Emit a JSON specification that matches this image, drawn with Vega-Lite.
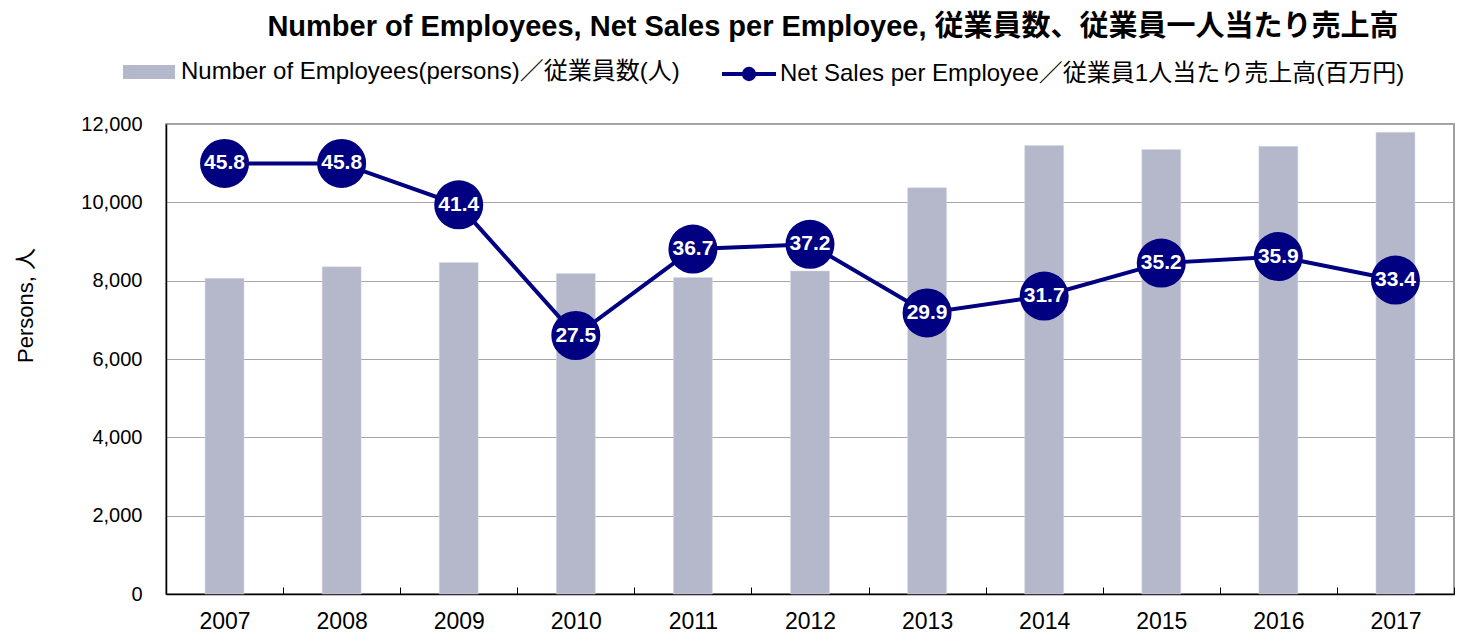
{
  "$schema": "https://vega.github.io/schema/vega-lite/v6.json",
  "width": 1288,
  "height": 470,
  "autosize": {"type": "none"},
  "padding": {"left": 166, "top": 124, "right": 3, "bottom": 39},
  "background": "white",
  "config": {
    "font": "Liberation Sans, Noto Sans CJK JP",
    "view": {"stroke": "#808080", "strokeWidth": 1.5}
  },
  "title": {
    "text": "Number of Employees, Net Sales per Employee, 従業員数、従業員一人当たり売上高",
    "font": "Liberation Sans, Noto Sans CJK JP",
    "fontSize": 29,
    "fontWeight": "bold",
    "color": "#000000",
    "anchor": "middle",
    "dx": 23,
    "offset": 3
  },
  "data": {
    "values": [
      {"year": "2007", "employees": 8060, "sales": 45.8},
      {"year": "2008", "employees": 8355, "sales": 45.8},
      {"year": "2009", "employees": 8465, "sales": 41.4},
      {"year": "2010", "employees": 8185, "sales": 27.5},
      {"year": "2011", "employees": 8080, "sales": 36.7},
      {"year": "2012", "employees": 8250, "sales": 37.2},
      {"year": "2013", "employees": 10375, "sales": 29.9},
      {"year": "2014", "employees": 11450, "sales": 31.7},
      {"year": "2015", "employees": 11350, "sales": 35.2},
      {"year": "2016", "employees": 11430, "sales": 35.9},
      {"year": "2017", "employees": 11790, "sales": 33.4}
    ]
  },
  "encoding": {
    "x": {
      "field": "year",
      "type": "ordinal",
      "scale": {"paddingInner": 0, "paddingOuter": 0},
      "axis": {
        "title": null,
        "labelAngle": 0,
        "labelFontSize": 23,
        "labelColor": "#000000",
        "labelPadding": 23,
        "tickBand": "extent",
        "tickSize": -7,
        "tickColor": "#000000",
        "domainColor": "#000000",
        "domainWidth": 1.5,
        "grid": false
      }
    }
  },
  "layer": [
    {
      "mark": {"type": "bar", "width": 39, "stroke": "#DADBE5", "strokeWidth": 0.5},
      "encoding": {
        "y": {
          "field": "employees",
          "type": "quantitative",
          "scale": {"domain": [0, 12000]},
          "axis": {
            "title": "Persons, 人",
            "titleFontSize": 22,
            "titleFontWeight": "normal",
            "titleColor": "#000000",
            "titleAngle": -90,
            "titleX": -141,
            "titleY": 181,
            "titleAlign": "center",
            "titleBaseline": "middle",
            "values": [0, 2000, 4000, 6000, 8000, 10000, 12000],
            "format": ",d",
            "labelFontSize": 20,
            "labelColor": "#000000",
            "labelPadding": 24,
            "tickSize": 0,
            "domainColor": "#000000",
            "domainWidth": 1.5,
            "grid": true,
            "gridColor": "#A6A6A6",
            "gridWidth": 1
          }
        },
        "fill": {
          "datum": "Number of Employees(persons)／従業員数(人)",
          "type": "nominal",
          "scale": {"range": ["#B5B7CB"]},
          "legend": {
            "title": null,
            "orient": "none",
            "legendX": -43,
            "legendY": -78,
            "padding": 0,
            "symbolType": "M-1,-0.27H1V0.27H-1Z",
            "symbolSize": 2704,
            "symbolStrokeWidth": 0,
            "labelFontSize": 24,
            "labelColor": "#000000",
            "labelLimit": 0,
            "labelOffset": 6
          }
        }
      }
    },
    {
      "encoding": {
        "y": {
          "field": "sales",
          "type": "quantitative",
          "scale": {"domain": [0, 50]},
          "axis": null
        }
      },
      "layer": [
        {
          "mark": {"type": "line", "strokeWidth": 4},
          "encoding": {
            "stroke": {
              "datum": "Net Sales per Employee／従業員1人当たり売上高(百万円)",
              "type": "nominal",
              "scale": {"range": ["#000080"]},
              "legend": {
                "title": null,
                "orient": "none",
                "legendX": 554,
                "legendY": -79,
                "padding": 0,
                "symbolType": "M-1,0H1M-0.19,0A0.19,0.19,0,1,1,0.19,0A0.19,0.19,0,1,1,-0.19,0Z",
                "symbolSize": 2916,
                "symbolStrokeWidth": 4,
                "symbolFillColor": "#000080",
                "symbolStrokeColor": "#000080",
                "labelFontSize": 24,
                "labelColor": "#000000",
                "labelLimit": 0,
                "labelOffset": 2,
                "encode": {
                  "symbols": {
                    "update": {
                      "fill": {"value": "#000080"},
                      "stroke": {"value": "#000080"},
                      "strokeWidth": {"value": 4}
                    }
                  }
                }
              }
            }
          }
        },
        {
          "mark": {"type": "point", "shape": "circle", "size": 2400, "filled": true, "color": "#000080", "opacity": 1}
        },
        {
          "mark": {"type": "text", "color": "#FFFFFF", "fontSize": 21, "fontWeight": "bold", "align": "center", "baseline": "middle"},
          "encoding": {
            "text": {"field": "sales", "type": "quantitative", "format": ".1f"}
          }
        }
      ]
    }
  ],
  "resolve": {"scale": {"y": "independent"}}
}
